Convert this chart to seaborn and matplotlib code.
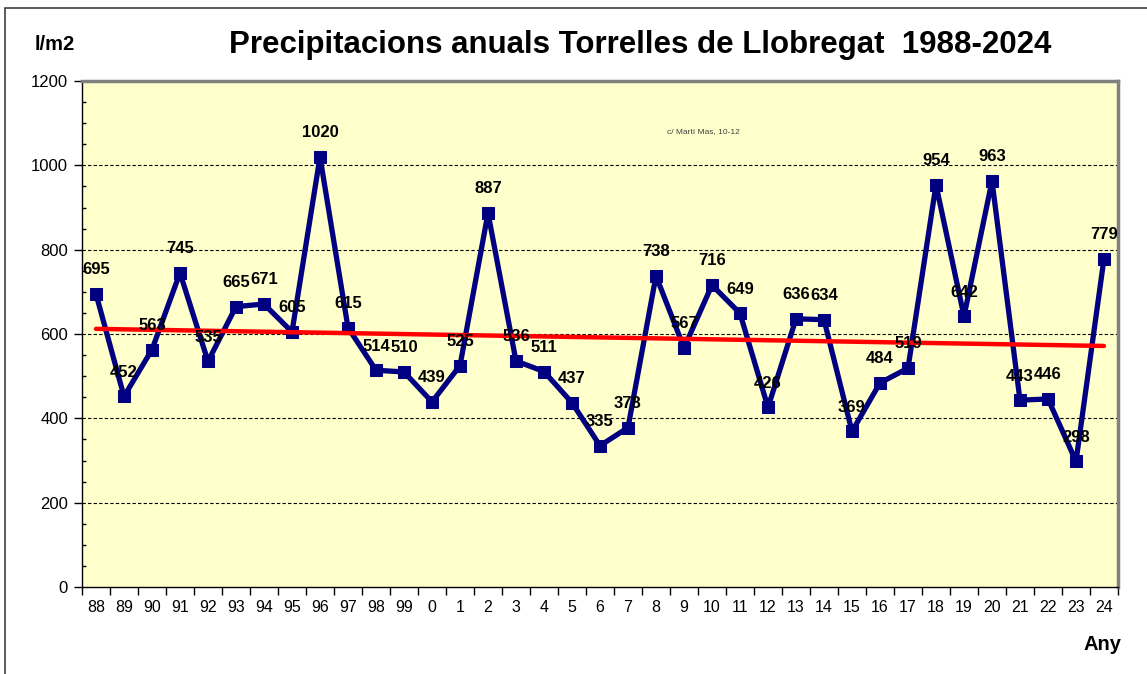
import numpy as np
import pandas as pd
import matplotlib
matplotlib.use("Agg")
import matplotlib.pyplot as plt
import seaborn as sns
from matplotlib.patches import Rectangle

years = ["88", "89", "90", "91", "92", "93", "94", "95", "96", "97", "98", "99",
         "0", "1", "2", "3", "4", "5", "6", "7", "8", "9", "10", "11", "12", "13",
         "14", "15", "16", "17", "18", "19", "20", "21", "22", "23", "24"]
rain = [695, 452, 563, 745, 535, 665, 671, 605, 1020, 615, 514, 510,
        439, 525, 887, 536, 511, 437, 335, 378, 738, 567, 716, 649, 426, 636,
        634, 369, 484, 519, 954, 642, 963, 443, 446, 298, 779]
y_ticks = [0, 200, 400, 600, 800, 1000, 1200]

sns.set_theme(style="white")
plt.rcParams['font.family'] = ['Liberation Sans', 'DejaVu Sans']
plt.rcParams['text.color'] = 'black'
plt.rcParams['xtick.color'] = 'black'
plt.rcParams['ytick.color'] = 'black'
plt.rcParams['xtick.labelcolor'] = 'black'
plt.rcParams['ytick.labelcolor'] = 'black'

fig = plt.figure(figsize=(11.47, 6.74), dpi=100)
ax = fig.add_axes([82/1147, 1-587/674, (1118-82)/1147, (587-81)/674])
ax.set_facecolor("#FFFFCC")

pos = np.arange(len(years))
df = pd.DataFrame({"pos": pos, "rain": rain})

# gridlines
for yt in y_ticks[1:]:
    ax.axhline(yt, color="black", lw=0.8, ls=(0, (3, 2)), zorder=1)

sns.lineplot(data=df, x="pos", y="rain", ax=ax, color="#000080", lw=3.8,
             marker="s", markersize=9, markeredgecolor="#000080", zorder=3)

# linear trend
coef = np.polyfit(pos, rain, 1)
trend = np.polyval(coef, pos)
sns.lineplot(x=pos, y=trend, ax=ax, color="#FF0000", lw=3.2, zorder=4)

for p, v in zip(pos, rain):
    ax.annotate(str(v), (p, v), xytext=(0, 12), textcoords="offset points",
                ha="center", va="bottom", fontsize=12, fontweight="bold",
                color="black", zorder=5)

ax.set_xlim(-0.5, len(years) - 0.5)
ax.set_ylim(0, 1200)
ax.set_yticks(y_ticks)
ax.set_yticks(np.arange(0, 1201, 50), minor=True)
ax.set_xticks(pos)
ax.set_xticklabels(years)
ax.set_xticks(np.arange(-0.5, len(years), 1), minor=True)
ax.tick_params(axis="x", which="major", length=0, labelsize=11.5, pad=9, colors="black")
ax.tick_params(axis="x", which="minor", length=6, width=1, color="black", direction="out", bottom=True)
ax.tick_params(axis="y", which="major", length=6, width=1, color="black", direction="out",
               labelsize=12, left=True, pad=4, labelcolor="black")
ax.tick_params(axis="y", which="minor", length=3, width=1, color="black", direction="in", left=True)
ax.set_xlabel("")
ax.set_ylabel("")

for s in ["left", "bottom"]:
    ax.spines[s].set_color("black")
    ax.spines[s].set_linewidth(1.0)
for s in ["top", "right"]:
    ax.spines[s].set_color("#808080")
    ax.spines[s].set_linewidth(2.5)

ax.text(0.6, 0.9, "c/ Martí Mas, 10-12", transform=ax.transAxes, fontsize=6,
        color="#404040", ha="center", va="center")

fig.text(640/1147, 1-45/674, "Precipitacions anuals Torrelles de Llobregat  1988-2024",
         ha="center", va="center", fontsize=22.5, fontweight="bold", color="black")
fig.text(55/1147, 1-45/674, "l/m2", ha="center", va="center", fontsize=14.5,
         fontweight="bold", color="black")
fig.text(1102/1147, 1-645/674, "Any", ha="center", va="center", fontsize=14.5,
         fontweight="bold", color="black")

# outer frame
fig.patches.append(Rectangle((5/1147, -0.05), 1.2, 1-8/674+0.05, transform=fig.transFigure,
                             fill=False, edgecolor="#404040", lw=1.2))

fig.savefig("out.png", dpi=100)
